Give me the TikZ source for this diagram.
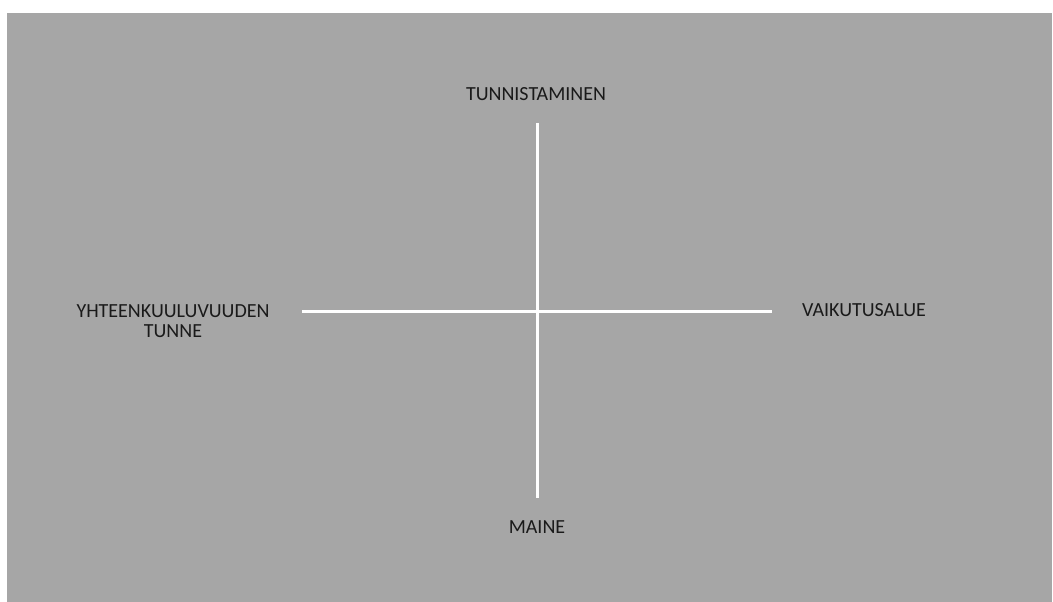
\documentclass[tikz,border=0pt]{standalone}
\usepackage{fontspec}
\setmainfont{Carlito}
\definecolor{bg}{HTML}{A6A6A6}
\definecolor{txt}{HTML}{1A1A1A}
\begin{document}
\begin{tikzpicture}[x=0.75pt,y=-0.75pt,
  axis/.style={draw=white,line width=2pt},
  lbl/.style={text=txt,font=\fontsize{15}{15}\selectfont,inner sep=0pt,align=center}]
\useasboundingbox (0,0) rectangle (1053,602);
\fill[white] (0,0) rectangle (1053,602);
\fill[bg] (7,13) rectangle (1052,602);
\coordinate (l) at (302,311.5);
\coordinate (r) at (771.5,311.5);
\coordinate (t) at (537.5,123);
\coordinate (b) at (537.5,498);
\draw[axis] (l) -- (r);
\draw[axis] (t) -- (b);
\node[lbl] (top) at (536,94) {TUNNISTAMINEN};
\node[lbl] (left) at (173,321.5) {YHTEENKUULUVUUDEN\\TUNNE};
\node[lbl] (right) at (864,310) {VAIKUTUSALUE};
\node[lbl] (bottom) at (537,527.5) {MAINE};
\end{tikzpicture}
\end{document}
